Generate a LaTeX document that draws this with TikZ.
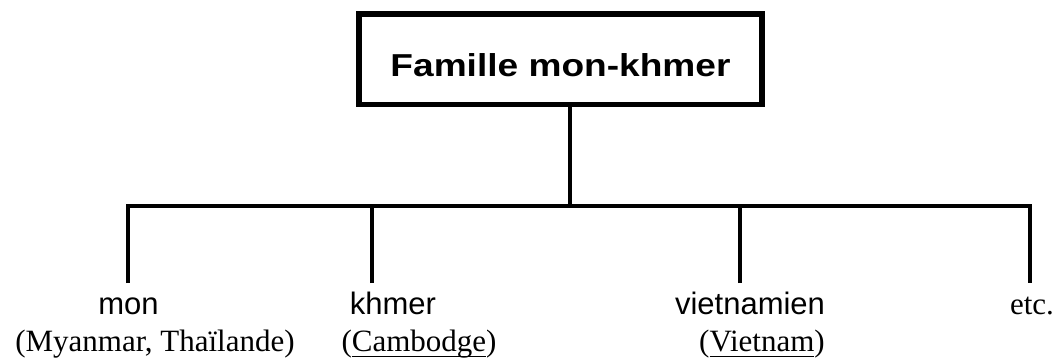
\documentclass[tikz,border=0pt]{standalone}
\usepackage{fontspec,tikz}
\setmainfont{Liberation Serif}
\newfontfamily\arial{Liberation Sans}
\newfontfamily\arialtitre[FakeStretch=1.17]{Liberation Sans}
\newcommand\souligne[1]{\setbox0\hbox{#1}\rlap{\rule[-6pt]{\wd0}{1.3pt}}\box0}

\begin{document}
\begin{tikzpicture}[x=1pt,y=-1pt,
  wire/.style={line width=4.5pt},
  titrebox/.style={draw,line width=5.5pt,inner sep=0pt,minimum width=403pt,minimum height=90.5pt,
    text height=33.5pt,text depth=0pt,font=\fontsize{31.7}{38}\selectfont\arialtitre\bfseries},
  langue/.style={anchor=base,inner sep=0pt,font=\fontsize{31}{37}\selectfont\arial},
  pays/.style={anchor=base,inner sep=0pt,font=\fontsize{31}{37}\selectfont}]
\path[use as bounding box] (0,0) rectangle (1055,360);
\node[titrebox] (titre) at (560.5,59.25) {Famille mon-khmer};
\coordinate (barre) at (570,206);
\coordinate (pied1) at (128,283);
\coordinate (pied2) at (372,283);
\coordinate (pied3) at (740,283);
\coordinate (pied4) at (1030,283);
\draw[wire] (titre.south -| barre) -- (barre);
\draw[wire] (pied1) |- (barre) -| (pied4);
\draw[wire] (pied2) -- (pied2 |- barre);
\draw[wire] (pied3) -- (pied3 |- barre);
% langues
\node[langue] (mon) at (128.5,314) {mon};
\node[langue] (khmer) at (393,314) {khmer};
\node[langue] (viet) at (750,314) {vietnamien};
\node[pays] (etc) at (1032,314) {etc.};
% pays
\node[pays] (paysmon) at (155,351) {(Myanmar, Thaïlande)};
\node[pays] (payskhmer) at (419,351) {(\souligne{Cambodge})};
\node[pays] (paysviet) at (762,351) {(\souligne{Vietnam})};
\end{tikzpicture}
\end{document}
